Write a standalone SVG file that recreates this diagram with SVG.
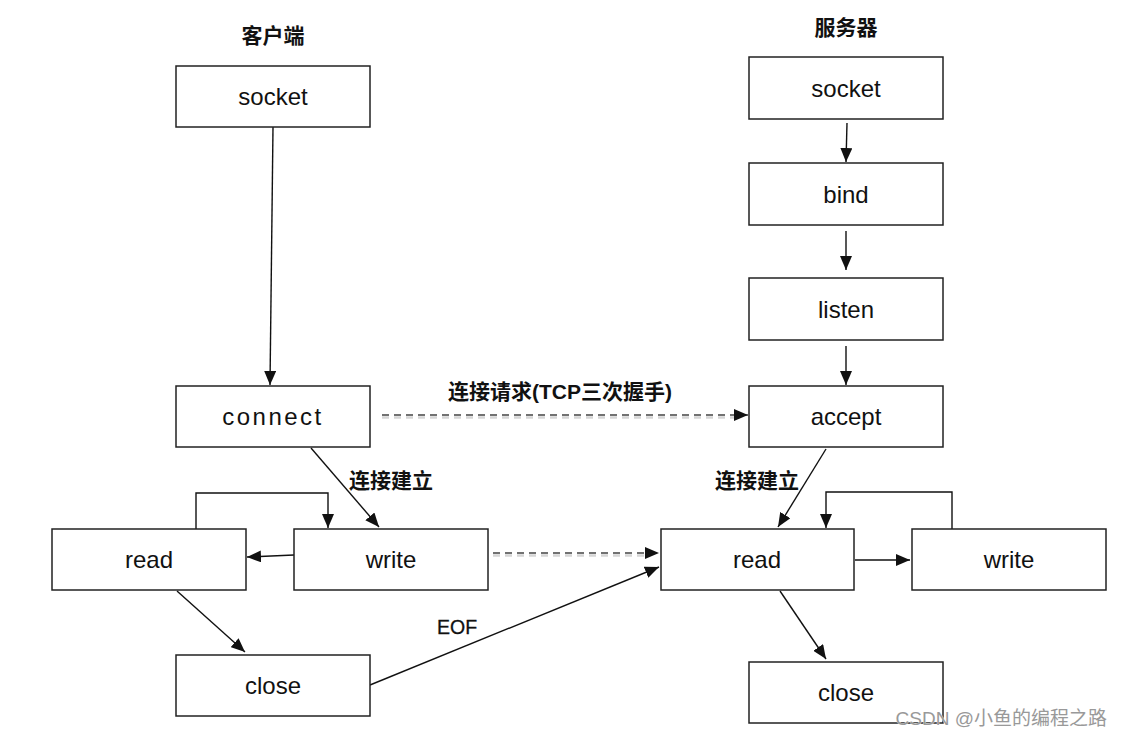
<svg xmlns="http://www.w3.org/2000/svg" width="1123" height="737" viewBox="0 0 1123 737">
<style>
.box{fill:#fff;stroke:#222;stroke-width:1.5}
.t{font-family:"Liberation Sans",Arial,Helvetica,sans-serif;font-size:24px;fill:#111;text-anchor:middle}
.cn{font-family:"Liberation Sans","Noto Sans CJK SC",sans-serif;font-size:21px;font-weight:bold;fill:#111;text-anchor:middle}
.ln{fill:none;stroke:#111;stroke-width:1.4}
.dash{fill:none;stroke:#444;stroke-width:1.6;stroke-dasharray:7 5}
.dsh{fill:none;stroke:#bbb;stroke-width:2.5;stroke-dasharray:7 5;opacity:0.6}
</style>
<defs>
<marker id="ah" markerUnits="userSpaceOnUse" markerWidth="14" markerHeight="12" refX="14" refY="6" orient="auto" viewBox="0 0 14 12">
<path d="M0,0 L14,6 L0,12 z" fill="#111"/>
</marker>
</defs>
<rect width="1123" height="737" fill="#fff"/>

<text class="cn" x="273" y="43">客户端</text>
<text class="cn" x="846" y="35">服务器</text>

<g id="connectors">
<line class="ln" x1="273" y1="127" x2="270" y2="385" marker-end="url(#ah)"/>
<line class="ln" x1="311" y1="448" x2="379" y2="527" marker-end="url(#ah)"/>
<polyline class="ln" points="196,529 196,493 328,493 328,528" marker-end="url(#ah)"/>
<line class="ln" x1="294" y1="555" x2="247" y2="557" marker-end="url(#ah)"/>
<line class="ln" x1="177" y1="591" x2="245" y2="652" marker-end="url(#ah)"/>
<line class="dsh" x1="382" y1="417.5" x2="736" y2="417.5"/>
<line class="dash" x1="382" y1="415" x2="748" y2="415" marker-end="url(#ah)"/>
<line class="dsh" x1="493" y1="555.5" x2="647" y2="555.5"/>
<line class="dash" x1="493" y1="553" x2="659" y2="553" marker-end="url(#ah)"/>
<line class="ln" x1="370" y1="685" x2="659" y2="567" marker-end="url(#ah)"/>
<line class="ln" x1="847" y1="123" x2="846" y2="162" marker-end="url(#ah)"/>
<line class="ln" x1="846" y1="231" x2="846" y2="270" marker-end="url(#ah)"/>
<line class="ln" x1="846" y1="346" x2="846" y2="385" marker-end="url(#ah)"/>
<line class="ln" x1="826" y1="449" x2="778" y2="527" marker-end="url(#ah)"/>
<line class="ln" x1="855" y1="560" x2="910" y2="560" marker-end="url(#ah)"/>
<polyline class="ln" points="952,529 952,492 826,492 826,528" marker-end="url(#ah)"/>
<line class="ln" x1="780" y1="591" x2="826" y2="659" marker-end="url(#ah)"/>
<text class="cn" x="560" y="399">连接请求(TCP三次握手)</text>
<text class="cn" x="391" y="488">连接建立</text>
<text class="cn" x="757" y="488">连接建立</text>
<text x="457" y="634" font-family="Liberation Sans,Arial,sans-serif" font-size="19.5" fill="#111" stroke="#111" stroke-width="0.3" text-anchor="middle">EOF</text>
</g>

<g id="c_socket"><rect class="box" x="176" y="66" width="194" height="61"/><text class="t" x="273" y="105">socket</text></g>
<g id="c_connect"><rect class="box" x="176" y="386" width="194" height="61"/><text class="t" x="273" y="425" letter-spacing="2.5">connect</text></g>
<g id="c_read"><rect class="box" x="52" y="529" width="194" height="61"/><text class="t" x="149" y="568">read</text></g>
<g id="c_write"><rect class="box" x="294" y="529" width="194" height="61"/><text class="t" x="391" y="568">write</text></g>
<g id="c_close"><rect class="box" x="176" y="655" width="194" height="61"/><text class="t" x="273" y="694">close</text></g>

<g id="s_socket"><rect class="box" x="749" y="57" width="194" height="62"/><text class="t" x="846" y="97">socket</text></g>
<g id="s_bind"><rect class="box" x="749" y="163" width="194" height="62"/><text class="t" x="846" y="203">bind</text></g>
<g id="s_listen"><rect class="box" x="749" y="278" width="194" height="62"/><text class="t" x="846" y="318">listen</text></g>
<g id="s_accept"><rect class="box" x="749" y="386" width="194" height="61"/><text class="t" x="846" y="425">accept</text></g>
<g id="s_read"><rect class="box" x="661" y="529" width="193" height="61"/><text class="t" x="757" y="568">read</text></g>
<g id="s_write"><rect class="box" x="912" y="529" width="194" height="61"/><text class="t" x="1009" y="568">write</text></g>
<g id="s_close"><rect class="box" x="749" y="662" width="194" height="61"/><text class="t" x="846" y="701">close</text></g>

<text x="1107" y="725" font-family="Liberation Sans,'Noto Sans CJK SC',sans-serif" font-size="19" fill="#999" stroke="#fff" stroke-width="0.6" paint-order="stroke" text-anchor="end">CSDN @小鱼的编程之路</text>
</svg>
